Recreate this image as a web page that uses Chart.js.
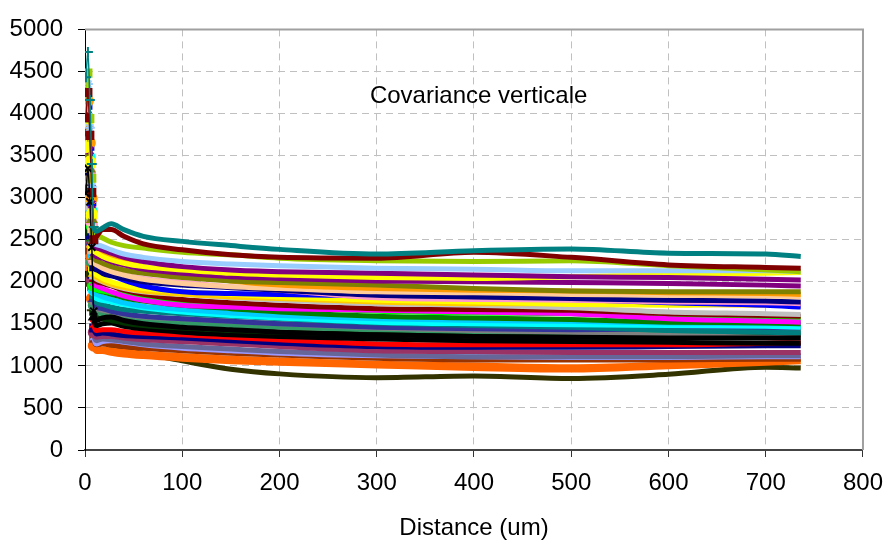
<!DOCTYPE html>
<html>
<head>
    <title>Covariance verticale</title>
    <script src="https://cdn.jsdelivr.net/npm/chart.js"></script>
    <style>
        body { margin: 0; background: #fff; }
        canvas { display: block; }
    </style>
</head>
<body>
    <canvas id="covChart" width="895" height="546"></canvas>

    <script>
        // distance positions (um), shared by every curve
        var xs = [1, 3, 5, 7, 9, 12, 18, 27, 40, 60, 100, 150, 200, 300, 400, 500, 600, 700, 736];

        var tealTop    = [4430, 4730, 4160, 3400, 2650, 2600, 2640, 2690, 2620, 2540, 2480, 2430, 2385, 2330, 2370, 2390, 2340, 2330, 2300];
        var maroonTop  = [3950, 4250, 3740, 3060, 2500, 2540, 2620, 2620, 2540, 2450, 2380, 2320, 2290, 2280, 2350, 2290, 2200, 2170, 2160];
        var yellowGrn  = [4180, 4480, 3940, 3230, 2600, 2560, 2520, 2470, 2430, 2400, 2350, 2320, 2280, 2250, 2240, 2250, 2190, 2140, 2120];
        var lightBlue  = [4050, 4350, 3830, 3130, 2480, 2440, 2420, 2380, 2330, 2290, 2240, 2210, 2190, 2160, 2150, 2130, 2130, 2130, 2120];
        var yellowTop  = [3600, 3900, 3430, 2810, 2400, 2340, 2300, 2260, 2220, 2180, 2140, 2100, 2080, 2050, 2040, 2060, 2080, 2100, 2110];
        var purpleA    = [4020, 4320, 3800, 3110, 2450, 2400, 2380, 2340, 2290, 2240, 2180, 2140, 2120, 2100, 2080, 2060, 2050, 2030, 2020];
        var purpleB    = [3750, 4050, 3560, 2920, 2350, 2300, 2280, 2240, 2200, 2150, 2100, 2060, 2040, 2010, 2000, 1990, 1980, 1960, 1950];
        var olive      = [3500, 3800, 3340, 2740, 2300, 2250, 2220, 2180, 2140, 2100, 2050, 2010, 1990, 1960, 1920, 1890, 1880, 1880, 1880];
        var orange     = [3850, 4150, 3650, 2990, 2420, 2380, 2350, 2310, 2250, 2180, 2090, 2010, 1960, 1920, 1900, 1890, 1870, 1860, 1850];
        var tan        = [3350, 3650, 3210, 2630, 2250, 2200, 2160, 2120, 2080, 2030, 1980, 1940, 1920, 1880, 1870, 1850, 1840, 1830, 1820];
        var pink       = [3450, 3750, 3300, 2700, 2250, 2200, 2170, 2130, 2080, 2040, 1990, 1940, 1900, 1810, 1790, 1780, 1760, 1750, 1740];
        var navyA      = [3250, 3550, 3120, 2560, 2180, 2140, 2100, 2070, 2040, 2000, 1960, 1930, 1900, 1840, 1820, 1800, 1780, 1770, 1760];
        var blue       = [3800, 4100, 3610, 2950, 2250, 2150, 2120, 2080, 2020, 1950, 1880, 1860, 1850, 1830, 1820, 1790, 1750, 1720, 1700];
        var yellowB    = [3550, 3850, 3390, 2770, 2150, 2080, 2040, 2000, 1960, 1920, 1880, 1850, 1820, 1780, 1760, 1730, 1720, 1740, 1740];
        var gold       = [3100, 3400, 2990, 2450, 2100, 2050, 2010, 1970, 1930, 1890, 1850, 1820, 1800, 1760, 1740, 1740, 1730, 1720, 1720];
        var silver     = [3000, 3300, 2900, 2380, 2080, 2030, 2000, 1960, 1920, 1880, 1850, 1810, 1780, 1740, 1720, 1690, 1640, 1620, 1610];
        var maroonB    = [3250, 3550, 3120, 2560, 2050, 2000, 1980, 1950, 1900, 1850, 1790, 1750, 1720, 1680, 1670, 1660, 1620, 1600, 1590];
        var magenta    = [3600, 3900, 3430, 2810, 2000, 1950, 1920, 1880, 1830, 1780, 1720, 1700, 1680, 1660, 1640, 1620, 1560, 1530, 1520];
        var lime       = [3400, 3700, 3260, 2660, 1950, 1900, 1890, 1870, 1850, 1810, 1760, 1730, 1700, 1650, 1630, 1620, 1580, 1560, 1550];
        var green      = [3200, 3500, 3080, 2520, 1950, 1900, 1880, 1850, 1810, 1770, 1720, 1680, 1640, 1590, 1570, 1550, 1520, 1510, 1500];
        var skyBlue    = [2900, 3200, 2820, 2300, 1900, 1850, 1820, 1790, 1750, 1710, 1670, 1630, 1600, 1560, 1540, 1530, 1510, 1500, 1500];
        var cyan       = [3650, 3950, 3480, 2840, 1900, 1800, 1780, 1760, 1730, 1690, 1640, 1600, 1570, 1520, 1500, 1490, 1480, 1470, 1460];
        var tealB      = [3350, 3650, 3210, 2630, 1850, 1750, 1730, 1700, 1670, 1650, 1620, 1590, 1560, 1510, 1480, 1460, 1420, 1400, 1390];
        var indigo     = [3150, 3450, 3040, 2480, 1800, 1700, 1680, 1650, 1620, 1590, 1560, 1530, 1500, 1460, 1440, 1430, 1440, 1450, 1450];
        var grey       = [3100, 3400, 2990, 2450, 1780, 1680, 1660, 1640, 1610, 1580, 1560, 1530, 1500, 1450, 1420, 1400, 1360, 1340, 1330];
        var seaGreen   = [2800, 3100, 2730, 2230, 1720, 1640, 1620, 1600, 1570, 1540, 1510, 1480, 1460, 1430, 1410, 1400, 1400, 1410, 1410];
        var darkGreen  = [2650, 2950, 2600, 2120, 1650, 1580, 1560, 1540, 1510, 1480, 1450, 1420, 1400, 1380, 1370, 1370, 1380, 1370, 1370];
        var blackA     = [3050, 3350, 2950, 2410, 1650, 1540, 1570, 1580, 1540, 1500, 1460, 1430, 1400, 1370, 1350, 1340, 1330, 1330, 1330];
        var blackB     = [2850, 3150, 2770, 2270, 1580, 1480, 1500, 1510, 1470, 1440, 1400, 1370, 1350, 1320, 1300, 1290, 1280, 1270, 1270];
        var red        = [2800, 3100, 2730, 2230, 1500, 1420, 1430, 1430, 1410, 1390, 1370, 1340, 1310, 1260, 1250, 1250, 1250, 1270, 1280];
        var navyB      = [2600, 2900, 2550, 2090, 1450, 1380, 1390, 1380, 1360, 1350, 1330, 1300, 1270, 1230, 1220, 1220, 1230, 1240, 1240];
        var plum       = [2500, 2800, 2460, 2020, 1400, 1340, 1350, 1350, 1330, 1310, 1290, 1260, 1230, 1180, 1170, 1160, 1160, 1160, 1160];
        var violet     = [2700, 3000, 2640, 2160, 1380, 1300, 1320, 1310, 1290, 1260, 1230, 1200, 1170, 1130, 1110, 1110, 1110, 1120, 1120];
        var lavender   = [2950, 3250, 2860, 2340, 1350, 1260, 1290, 1300, 1280, 1250, 1210, 1180, 1150, 1120, 1110, 1100, 1100, 1110, 1110];
        var rust       = [2400, 2700, 2380, 1940, 1330, 1250, 1260, 1250, 1230, 1210, 1180, 1150, 1130, 1090, 1070, 1070, 1070, 1080, 1080];
        var orangeB    = [2300, 2600, 2290, 1870, 1280, 1210, 1200, 1190, 1170, 1150, 1120, 1090, 1070, 1030, 1010, 990, 1020, 1060, 1080];
        var orangeC    = [2200, 2500, 2200, 1800, 1240, 1170, 1170, 1150, 1130, 1110, 1080, 1050, 1030, 1000, 970, 950, 990, 1030, 1050];
        var darkOlive  = [2000, 2300, 2020, 1660, 1260, 1230, 1300, 1220, 1190, 1150, 1060, 960, 905, 860, 880, 850, 900, 985, 975];

        var xTicks = [0, 100, 200, 300, 400, 500, 600, 700, 800];
        var yTicks = [0, 500, 1000, 1500, 2000, 2500, 3000, 3500, 4000, 4500, 5000];

        var series = [
            [tealTop, '#008080', 'cross'],
            [blackA, '#000000', 'crossRot'],
            [maroonTop, '#800000', 'rect'],
            [yellowGrn, '#99CC00', 'rect'],
            [lightBlue, '#99CCFF', 'star'],
            [purpleA, '#800080', 'crossRot'],
            [yellowTop, '#FFFF00', 'circle'],
            [purpleB, '#800080', 'crossRot'],
            [olive, '#808000', 'triangle'],
            [orange, '#FF9900', 'circle'],
            [tan, '#FFCC99', 'rect'],
            [navyA, '#000080', 'rect'],
            [pink, '#FF99CC', 'circle'],
            [blue, '#0000FF', 'rect'],
            [yellowB, '#FFFF00', 'circle'],
            [gold, '#FFCC00', 'triangle'],
            [silver, '#C0C0C0', 'rect'],
            [maroonB, '#800000', 'rect'],
            [magenta, '#FF00FF', 'crossRot'],
            [lime, '#00FF00', 'circle'],
            [green, '#008000', 'triangle'],
            [skyBlue, '#00CCFF', 'rect'],
            [cyan, '#00FFFF', 'circle'],
            [tealB, '#008080', 'rect'],
            [indigo, '#333399', 'triangle'],
            [grey, '#808080', 'rect'],
            [seaGreen, '#339966', 'circle'],
            [darkGreen, '#003300', 'rect'],
            [blackB, '#000000', 'triangle'],
            [red, '#FF0000', 'crossRot'],
            [navyB, '#000080', 'rect'],
            [plum, '#993366', 'circle'],
            [violet, '#666699', 'cross'],
            [lavender, '#9999FF', 'crossRot'],
            [rust, '#993300', 'rect'],
            [orangeB, '#FF6600', 'crossRot'],
            [orangeC, '#FF6600', 'circle'],
            [darkOlive, '#333300', 'cross']
        ];

        var datasets = series.map(function (s) {
            return {
                data: xs.map(function (x, i) { return { x: x, y: s[0][i] }; }),
                borderColor: s[1],
                backgroundColor: s[1],
                pointStyle: s[2],
                borderWidth: 5,
                pointBorderWidth: 2,
                pointRadius: function (c) { return c.dataIndex < 5 ? 5 : 0; },
                // the steep start is drawn thin so the markers show through
                segment: { borderWidth: function (c) { return c.p0DataIndex < 4 ? 1.5 : 5; } },
                cubicInterpolationMode: 'monotone',
                fill: false
            };
        });

        var font = { family: '"Liberation Sans", Arial, sans-serif', size: 24 };

        // text box inside the plot plus the grey frame on top and right
        var extras = {
            id: 'extras',
            afterDraw: function (chart) {
                var ctx = chart.ctx, a = chart.chartArea;
                var sx = chart.scales.x, sy = chart.scales.y;
                ctx.save();
                ctx.strokeStyle = '#A0A0A0';
                ctx.lineWidth = 2;
                ctx.beginPath();
                ctx.moveTo(a.left, a.top);
                ctx.lineTo(a.right, a.top);
                ctx.lineTo(a.right, a.bottom);
                ctx.stroke();
                ctx.fillStyle = '#000';
                ctx.font = '24px "Liberation Sans", Arial, sans-serif';
                ctx.textBaseline = 'alphabetic';
                ctx.fillText('Covariance verticale', sx.getPixelForValue(293), sy.getPixelForValue(4130));
                ctx.restore();
            }
        };

        var ctx = document.getElementById('covChart').getContext('2d');
        var covChart = new Chart(ctx, {
            type: 'line',
            data: { datasets: datasets },
            plugins: [extras],
            options: {
                responsive: false,
                animation: false,
                devicePixelRatio: 1,
                layout: { padding: { top: 18, right: 26, left: 0, bottom: 0 } },
                plugins: { legend: { display: false }, tooltip: { enabled: false } },
                scales: {
                    x: {
                        type: 'linear',
                        min: 0,
                        max: 800,
                        afterFit: function (s) { s.height = 96; },
                        afterBuildTicks: function (s) { s.ticks = xTicks.map(function (v) { return { value: v }; }); },
                        ticks: { font: font, color: '#000', padding: 12, maxRotation: 0, callback: function (v) { return String(v); } },
                        grid: {
                            color: function (c) { return (c.tick && (c.tick.value === 0 || c.tick.value === 800)) ? 'rgba(0,0,0,0)' : '#C0C0C0'; },
                            tickColor: '#333',
                            tickLength: 7,
                            lineWidth: 1
                        },
                        border: { color: '#444', width: 2, dash: [7, 5] },
                        title: { display: true, text: 'Distance (um)', font: font, color: '#000', padding: { top: 0, bottom: 3 } }
                    },
                    y: {
                        min: 0,
                        max: 5000,
                        afterFit: function (s) { s.width = 85; },
                        afterBuildTicks: function (s) { s.ticks = yTicks.map(function (v) { return { value: v }; }); },
                        ticks: { font: font, color: '#000', padding: 15, callback: function (v) { return String(v); } },
                        grid: {
                            color: function (c) { return (c.tick && (c.tick.value === 0 || c.tick.value === 5000)) ? 'rgba(0,0,0,0)' : '#C0C0C0'; },
                            tickColor: '#000',
                            tickLength: 7,
                            lineWidth: 1
                        },
                        border: { color: '#000', width: 1, dash: [7, 5] }
                    }
                }
            }
        });
    </script>
</body>
</html>
